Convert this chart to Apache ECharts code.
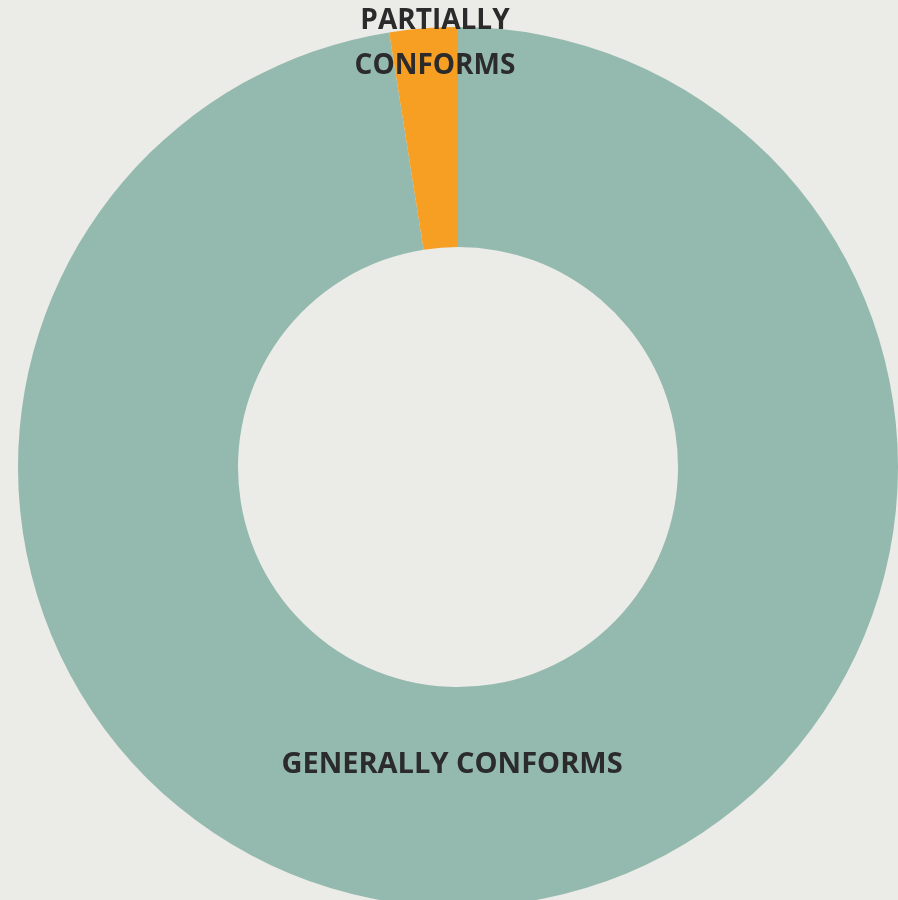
<!DOCTYPE html>
<html>
<head>
<meta charset="utf-8">
<script src="https://cdn.jsdelivr.net/npm/echarts@6/dist/echarts.min.js"></script>
<style>
  html, body { margin: 0; padding: 0; background: #EBEBE7; }
  #chart { width: 898px; height: 900px; }
</style>
</head>
<body>
<div id="chart"></div>
<script>
// Conformance ratings, share of assessed items
const categories = ['GENERALLY CONFORMS', 'PARTIALLY CONFORMS'];
const counts = [39, 1];
const sliceColors = ['#94B9AE', '#F69F22'];

const chart = echarts.init(document.getElementById('chart'), null, { renderer: 'canvas' });

const center = [458, 467];

// label anchor points and sizes, relative to the ring centre
const labelAnchors = [
  { dx: -6, dy: 298, size: 29 },
  { dx: -23, dy: -423, size: 28 }
];

chart.setOption({
  backgroundColor: '#EBEBE7',
  animation: false,
  series: [{
    type: 'pie',
    center: center,
    radius: [220, 440],
    startAngle: 90,
    clockwise: true,
    avoidLabelOverlap: false,
    data: categories.map((name, i) => ({
      name: name,
      value: counts[i],
      itemStyle: { color: sliceColors[i] },
      label: { fontSize: labelAnchors[i].size }
    })),
    label: {
      show: true,
      position: 'inside',
      formatter: (p) => p.dataIndex === 1 ? 'PARTIALLY\nCONFORMS' : p.name,
      fontFamily: 'Open Sans',
      fontWeight: 'bold',
      fontSize: 28,
      lineHeight: 45,
      color: '#2B2B2B',
      align: 'center',
      verticalAlign: 'middle'
    },
    labelLine: { show: false },
    labelLayout: function (params) {
      const a = labelAnchors[params.dataIndex];
      return {
        x: center[0] + a.dx,
        y: center[1] + a.dy,
        align: 'center',
        verticalAlign: 'middle'
      };
    },
    emphasis: { disabled: true }
  }]
});
</script>
</body>
</html>
